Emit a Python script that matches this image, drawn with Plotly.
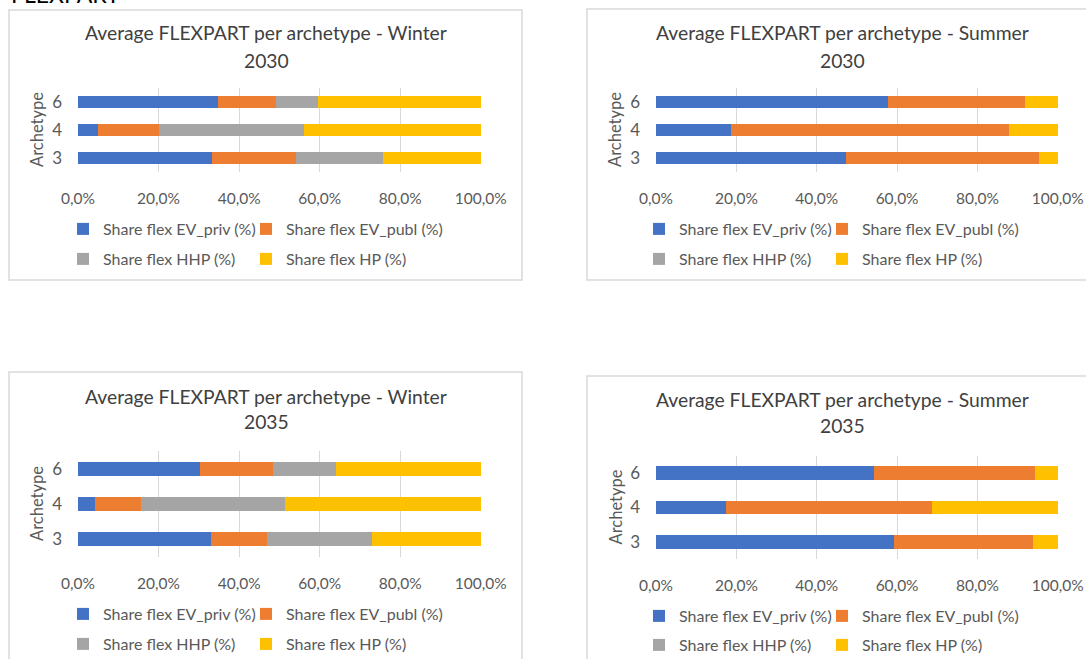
import plotly.graph_objects as go

W, H = 1086, 659
FONT = "Lato"
TEXT_GREY = "#595959"
GRID = "#d9d9d9"

ARCHETYPES = ["3", "4", "6"]
SERIES = ["Share flex EV_priv (%)", "Share flex EV_publ (%)",
          "Share flex HHP (%)", "Share flex HP (%)"]
COLORS = ["#4472C4", "#ED7D31", "#A5A5A5", "#FFC000"]
X_TICKS = [0, 20, 40, 60, 80, 100]

# Winter 2030 (shares in %, archetype 3, 4, 6)
w30_ev_priv = [33.3, 4.9, 34.8]
w30_ev_publ = [20.7, 15.2, 14.3]
w30_hhp = [21.6, 36.1, 10.4]
w30_hp = [24.4, 43.8, 40.5]

# Summer 2030
s30_ev_priv = [47.3, 18.6, 57.7]
s30_ev_publ = [48.0, 69.3, 34.1]
s30_hhp = [0.0, 0.0, 0.0]
s30_hp = [4.7, 12.1, 8.2]

# Winter 2035
w35_ev_priv = [33.0, 4.3, 30.4]
w35_ev_publ = [14.0, 11.3, 18.0]
w35_hhp = [26.1, 35.7, 15.6]
w35_hp = [26.9, 48.7, 36.0]

# Summer 2035
s35_ev_priv = [59.3, 17.4, 54.2]
s35_ev_publ = [34.5, 51.3, 40.1]
s35_hhp = [0.0, 0.0, 0.0]
s35_hp = [6.2, 31.3, 5.7]


def px(x):
    return x / W


def py(y):
    return 1 - y / H


# pixel geometry of each chart object on the page
panels = [
    dict(title=("Average FLEXPART per archetype - Winter", "2030"),
         data=[w30_ev_priv, w30_ev_publ, w30_hhp, w30_hp],
         box=(9, 10, 522, 280), plot_x=(78, 481), plot_y=(88, 172),
         title_x=266, title_y=(33, 60), leg_x=63, leg_y=(229, 259)),
    dict(title=("Average FLEXPART per archetype - Summer", "2030"),
         data=[s30_ev_priv, s30_ev_publ, s30_hhp, s30_hp],
         box=(587, 9, 1110, 280), plot_x=(656, 1058), plot_y=(88, 172),
         title_x=842, title_y=(33, 60), leg_x=639, leg_y=(229, 259)),
    dict(title=("Average FLEXPART per archetype - Winter", "2035"),
         data=[w35_ev_priv, w35_ev_publ, w35_hhp, w35_hp],
         box=(9, 372, 522, 700), plot_x=(78, 481), plot_y=(451, 557),
         title_x=266, title_y=(396, 422), leg_x=63, leg_y=(614, 644)),
    dict(title=("Average FLEXPART per archetype - Summer", "2035"),
         data=[s35_ev_priv, s35_ev_publ, s35_hhp, s35_hp],
         box=(587, 376, 1110, 700), plot_x=(656, 1058), plot_y=(456, 559),
         title_x=842, title_y=(399, 426), leg_x=639, leg_y=(616, 645)),
]
LEG_COL_STEP = 183

fig = go.Figure()
layout = dict(shapes=[], annotations=[])

for i, p in enumerate(panels, start=1):
    xa = "x" if i == 1 else f"x{i}"
    ya = "y" if i == 1 else f"y{i}"
    for k, (name, color, vals) in enumerate(zip(SERIES, COLORS, p["data"])):
        # one legend box per entry, laid out 2 x 2 under the chart
        n = (i - 1) * 4 + k + 1
        leg = "legend" if n == 1 else f"legend{n}"
        fig.add_trace(go.Bar(
            y=ARCHETYPES, x=vals, orientation="h", name=name,
            marker=dict(color=color, line=dict(width=0)),
            xaxis=xa, yaxis=ya, legend=leg, showlegend=True,
            hovertemplate="%{y}: %{x:.1f}%<extra></extra>",
        ))
        layout[leg] = dict(
            orientation="h", x=px(p["leg_x"] + (k % 2) * LEG_COL_STEP),
            xanchor="left", y=py(p["leg_y"][k // 2]), yanchor="middle",
            bgcolor="rgba(0,0,0,0)",
            font=dict(family=FONT, size=16, color=TEXT_GREY),
        )

    x0, x1 = p["plot_x"]
    y0, y1 = p["plot_y"]
    layout["xaxis" if i == 1 else f"xaxis{i}"] = dict(
        domain=[px(x0), px(x1)], anchor=ya, range=[0, 100.05],
        tickvals=X_TICKS, ticktext=[f"{v},0%" for v in X_TICKS],
        showgrid=True, gridcolor=GRID, gridwidth=1, zeroline=False,
        showline=False, ticks="", ticklabelstandoff=15, automargin=False,
        tickfont=dict(family=FONT, size=15.5, color=TEXT_GREY),
    )
    layout["yaxis" if i == 1 else f"yaxis{i}"] = dict(
        domain=[py(y1), py(y0)], anchor=xa, type="category",
        categoryorder="array", categoryarray=ARCHETYPES,
        showgrid=False, zeroline=False, showline=False, ticks="",
        ticklabelstandoff=15, automargin=False,
        tickfont=dict(family=FONT, size=17, color=TEXT_GREY),
    )

    bx0, by0, bx1, by1 = p["box"]
    layout["shapes"].append(dict(
        type="rect", xref="paper", yref="paper",
        x0=px(bx0), x1=px(bx1), y0=py(by1), y1=py(by0),
        line=dict(color=GRID, width=1.5), layer="below",
    ))
    for line, ty in zip(p["title"], p["title_y"]):
        layout["annotations"].append(dict(
            text=line, xref="paper", yref="paper",
            x=px(p["title_x"]), y=py(ty), xanchor="center", yanchor="middle",
            showarrow=False, font=dict(family=FONT, size=19.3, color="#404040"),
        ))
    layout["annotations"].append(dict(
        text="Archetype", xref="paper", yref="paper", textangle=-90,
        x=px(x0 - 41), y=py((y0 + y1) / 2), xanchor="center", yanchor="middle",
        showarrow=False, font=dict(family=FONT, size=16.5, color=TEXT_GREY),
    ))

# page heading above the charts, mostly cut off
layout["annotations"].append(dict(
    text="FLEXPART", xref="paper", yref="paper", x=px(9), y=py(-6),
    xanchor="left", yanchor="middle", showarrow=False,
    font=dict(family=FONT, size=23, color="#000000"),
))

fig.update_layout(
    **layout,
    showlegend=True,
    width=W, height=H, barmode="stack", bargap=0.6,
    margin=dict(l=0, r=0, t=0, b=0, autoexpand=False),
    paper_bgcolor="white", plot_bgcolor="white",
    separators=",.",
)

# drop the default page margin so the figure fills the window exactly
fig.write_html("out.html", config={"displayModeBar": False},
               post_script="document.body.style.margin = '0';")
